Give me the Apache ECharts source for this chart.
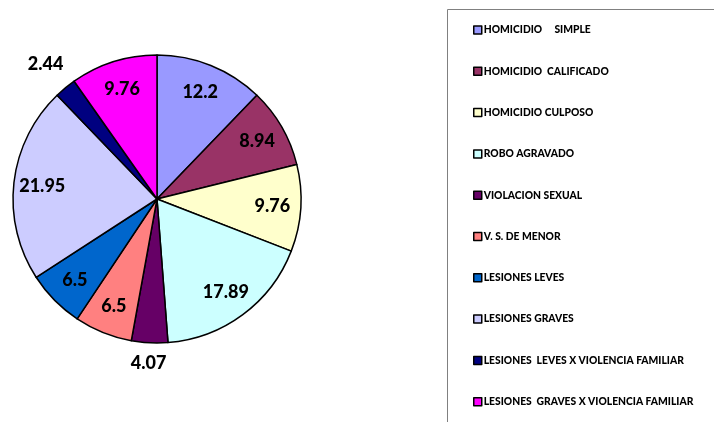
<!DOCTYPE html>
<html>
<head>
<meta charset="utf-8">
<script src="https://cdn.jsdelivr.net/npm/echarts@6/dist/echarts.min.js"></script>
<style>
html,body{margin:0;padding:0;background:#fff;}
#chart{width:714px;height:422px;}
</style>
</head>
<body>
<div id="chart"></div>
<script>
const categories = [
  'HOMICIDIO     SIMPLE',
  'HOMICIDIO  CALIFICADO',
  'HOMICIDIO CULPOSO',
  'ROBO AGRAVADO',
  'VIOLACION SEXUAL',
  'V. S. DE MENOR',
  'LESIONES LEVES',
  'LESIONES GRAVES',
  'LESIONES  LEVES X VIOLENCIA FAMILIAR',
  'LESIONES  GRAVES X VIOLENCIA FAMILIAR'
];
const values = [12.2, 8.94, 9.76, 17.89, 4.07, 6.5, 6.5, 21.95, 2.44, 9.76];
const colors = ['#9999FF', '#993366', '#FFFFCC', '#CCFFFF', '#660066', '#FF8080', '#0066CC', '#CCCCFF', '#000080', '#FF00FF'];
const outsideLabelA = 'LESIONES  LEVES X VIOLENCIA FAMILIAR';
const outsideLabelB = 'VIOLACION SEXUAL';

const chart = echarts.init(document.getElementById('chart'));
const labelFont = { fontFamily: 'Lato', fontWeight: 900, fontSize: 18, color: '#000' };

const mainData = categories.map((c, i) => ({ name: c, value: values[i], itemStyle: { color: colors[i] } }));
const labelData = (pred) => categories.map((c, i) => ({
  name: c, value: values[i],
  label: { show: pred(c) }
}));

const overlayBase = {
  type: 'pie',
  center: [157, 199],
  startAngle: 90,
  clockwise: true,
  silent: true,
  avoidLabelOverlap: false,
  animation: false,
  legendHoverLink: false,
  itemStyle: { color: 'rgba(0,0,0,0)', borderWidth: 0 },
  emphasis: { disabled: true },
  labelLine: { show: false },
  label: Object.assign({ position: 'inside', formatter: p => String(p.value) }, labelFont)
};

chart.setOption({
  animation: false,
  color: colors,
  graphic: [{
    type: 'rect',
    shape: { x: 447.5, y: 9.5, width: 320, height: 500 },
    style: { fill: 'none', stroke: '#808080', lineWidth: 1 },
    z: -1
  }],
  legend: {
    orient: 'vertical',
    left: 473,
    top: 24,
    padding: 0,
    itemWidth: 8,
    itemHeight: 8,
    itemGap: 29.3,
    icon: 'rect',
    data: categories,
    selectedMode: false,
    itemStyle: { borderColor: '#000', borderWidth: 1.5 },
    textStyle: { fontFamily: 'Lato', fontWeight: 900, fontSize: 10.3, color: '#000', lineHeight: 12, padding: [0, 0, 0, -3] }
  },
  series: [
    {
      type: 'pie',
      center: [157, 199],
      radius: 144,
      startAngle: 90,
      clockwise: true,
      silent: true,
      animation: false,
      data: mainData,
      itemStyle: { borderColor: '#000', borderWidth: 1.5 },
      label: { show: false },
      labelLine: { show: false },
      emphasis: { disabled: true }
    },
    Object.assign({}, overlayBase, { radius: [81, 144], data: labelData(c => c !== outsideLabelA && c !== outsideLabelB) }),
    Object.assign({}, overlayBase, { radius: [154, 190], data: labelData(c => c === outsideLabelA) }),
    Object.assign({}, overlayBase, { radius: [144, 178], data: labelData(c => c === outsideLabelB) })
  ]
});
</script>
</body>
</html>
